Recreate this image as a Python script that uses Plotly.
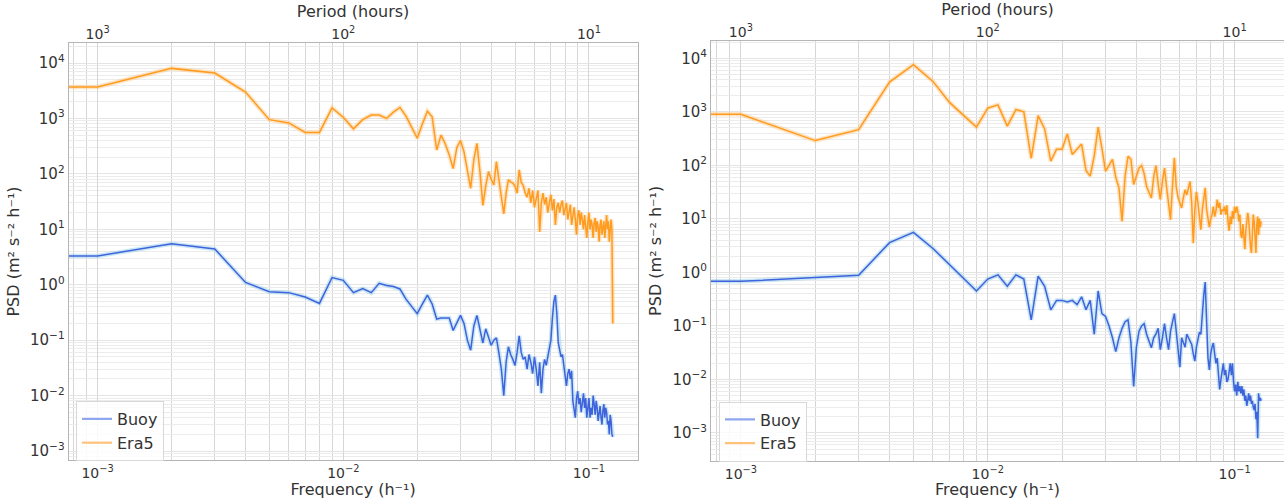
import math
import plotly.graph_objects as go

# ---------------- data ----------------
freq_left = [0.0007,
    0.001, 0.002, 0.003, 0.004, 0.005, 0.006, 0.007, 0.008, 0.009, 0.010,
    0.011, 0.012, 0.013, 0.014, 0.015, 0.016, 0.017, 0.018, 0.019, 0.020,
    0.021, 0.022, 0.023, 0.024, 0.025, 0.026, 0.027, 0.028, 0.029, 0.030,
    0.031, 0.032, 0.033, 0.034, 0.035, 0.036, 0.037, 0.038, 0.039, 0.040,
    0.041, 0.042, 0.043, 0.044, 0.045, 0.046, 0.047, 0.048, 0.049, 0.050,
    0.051, 0.052, 0.053, 0.054, 0.055, 0.056, 0.057, 0.058, 0.059, 0.060,
    0.061, 0.062, 0.063, 0.064, 0.065, 0.066, 0.067, 0.068, 0.069, 0.070,
    0.071, 0.072, 0.073, 0.074, 0.075, 0.076, 0.077, 0.078, 0.079, 0.080,
    0.081, 0.082, 0.083, 0.084, 0.085, 0.086, 0.087, 0.088, 0.089, 0.090,
    0.091, 0.092, 0.093, 0.094, 0.095, 0.096, 0.097, 0.098, 0.099, 0.100,
    0.101, 0.102, 0.103, 0.104, 0.105, 0.106, 0.107, 0.108, 0.109, 0.110,
    0.111, 0.112, 0.113, 0.114, 0.115, 0.116, 0.117, 0.118, 0.119, 0.120,
    0.121, 0.122, 0.123, 0.124, 0.125]

era5_left = [3700,
    3700, 8000, 6600, 3000, 950, 830, 560, 560, 1550, 1050,
    650, 950, 1150, 1150, 1000, 1300, 1580, 1100, 700, 440,
    800, 1350, 1075, 270, 500, 350, 220, 125, 300, 400,
    250, 110, 55, 180, 355, 110, 27, 60, 110, 80,
    63, 166, 80, 35, 19, 45, 78, 72, 68, 60,
    45, 118, 70, 62, 45, 38, 55, 30, 50, 25,
    35, 50, 9, 30, 45, 28, 38, 20, 30, 42,
    22, 35, 12, 25, 30, 20, 28, 33, 18, 25,
    30, 15, 22, 28, 12, 20, 25, 15, 8, 18,
    22, 12, 20, 15, 10, 18, 12, 7, 14, 20,
    10, 15, 12, 7, 13, 16, 9, 14, 11, 6,
    12, 15, 8, 11, 14, 7, 12, 18, 10, 14,
    6, 12, 15, 10, 0.2]

buoy_left = [3.3,
    3.3, 5.5, 4.4, 1.1, 0.75, 0.72, 0.6, 0.46, 1.35, 1.2,
    0.72, 0.85, 0.72, 1.06, 0.97, 0.93, 0.84, 0.55, 0.4, 0.3,
    0.45, 0.65, 0.45, 0.24, 0.25, 0.25, 0.25, 0.15, 0.2, 0.28,
    0.2, 0.1, 0.066, 0.18, 0.28, 0.15, 0.089, 0.16, 0.11, 0.081,
    0.1, 0.11, 0.059, 0.03, 0.01, 0.04, 0.076, 0.055, 0.045, 0.035,
    0.06, 0.12, 0.06, 0.045, 0.05, 0.03, 0.055, 0.04, 0.025, 0.05,
    0.03, 0.015, 0.04, 0.011, 0.03, 0.045, 0.035, 0.05, 0.06, 0.1,
    0.25, 0.5, 0.65, 0.3, 0.09, 0.07, 0.05, 0.055, 0.035, 0.02,
    0.015, 0.025, 0.03, 0.02, 0.028, 0.008, 0.006, 0.004, 0.009, 0.012,
    0.007, 0.009, 0.005, 0.008, 0.011, 0.006, 0.009, 0.004, 0.007, 0.009,
    0.004, 0.006, 0.0045, 0.01, 0.007, 0.0045, 0.008, 0.006, 0.0035, 0.005,
    0.0065, 0.004, 0.003, 0.0055, 0.007, 0.004, 0.006, 0.005, 0.003, 0.0035,
    0.002, 0.0045, 0.0035, 0.002, 0.0018]

freq_right = [0.0007,
    0.001, 0.002, 0.003, 0.004, 0.005, 0.006, 0.007, 0.008, 0.009, 0.010,
    0.011, 0.012, 0.013, 0.014, 0.015, 0.016, 0.017, 0.018, 0.019, 0.020,
    0.021, 0.022, 0.023, 0.024, 0.025, 0.026, 0.027, 0.028, 0.029, 0.030,
    0.031, 0.032, 0.033, 0.034, 0.035, 0.036, 0.037, 0.038, 0.039, 0.040,
    0.041, 0.042, 0.043, 0.044, 0.045, 0.046, 0.047, 0.048, 0.049, 0.050,
    0.051, 0.052, 0.053, 0.054, 0.055, 0.056, 0.057, 0.058, 0.059, 0.060,
    0.061, 0.062, 0.063, 0.064, 0.065, 0.066, 0.067, 0.068, 0.069, 0.070,
    0.071, 0.072, 0.073, 0.074, 0.075, 0.076, 0.077, 0.078, 0.079, 0.080,
    0.081, 0.082, 0.083, 0.084, 0.085, 0.086, 0.087, 0.088, 0.089, 0.090,
    0.091, 0.092, 0.093, 0.094, 0.095, 0.096, 0.097, 0.098, 0.099, 0.100,
    0.101, 0.102, 0.103, 0.104, 0.105, 0.106, 0.107, 0.108, 0.109, 0.110,
    0.111, 0.112, 0.113, 0.114, 0.115, 0.116, 0.117, 0.118, 0.119, 0.120,
    0.121, 0.122, 0.123, 0.124, 0.125, 0.126, 0.127, 0.128]

era5_right = [900,
    900, 290, 465, 3600, 7600, 3700, 1500, 850, 520, 1170,
    1350, 540, 1100, 1000, 135, 850, 480, 120, 200, 200,
    385, 160, 200, 250, 80, 63, 150, 520, 210, 78,
    100, 129, 60, 38, 9, 63, 147, 130, 44, 60,
    89, 99, 70, 40, 30, 24.5, 60, 99, 45, 23,
    50, 89, 40, 20, 9.6, 40, 138, 40, 25, 20,
    16, 25, 35, 28, 40, 50, 20, 3.5, 15, 32,
    20, 12, 6.3, 15, 25, 38, 15, 9, 7, 10,
    12, 17, 11, 14, 23, 16, 20, 12, 15, 14,
    17, 12, 18, 9, 6, 11, 8, 14, 10, 17,
    13, 17, 14, 9, 12, 5, 4.4, 8, 3.5, 2.7,
    6, 9, 13, 10, 5, 3, 2.3, 7, 12, 9,
    4, 2.3, 8, 11, 5, 10, 7, 9]

buoy_right = [0.68,
    0.68, 0.8, 0.88, 3.6, 5.6, 2.8, 1.4, 0.75, 0.45, 0.75,
    0.9, 0.55, 0.9, 0.75, 0.13, 0.85, 0.55, 0.2, 0.3, 0.3,
    0.28, 0.3, 0.25, 0.35, 0.2, 0.3, 0.07, 0.45, 0.17, 0.15,
    0.1, 0.06, 0.033, 0.06, 0.09, 0.12, 0.13, 0.05, 0.0074, 0.04,
    0.08, 0.1, 0.11, 0.07, 0.05, 0.039, 0.06, 0.07, 0.09, 0.036,
    0.06, 0.11, 0.06, 0.036, 0.08, 0.12, 0.17, 0.08, 0.03, 0.017,
    0.06, 0.05, 0.04, 0.07, 0.06, 0.05, 0.045, 0.03, 0.022, 0.04,
    0.06, 0.076, 0.07, 0.2, 0.38, 0.66, 0.12, 0.025, 0.015, 0.03,
    0.04, 0.048, 0.03, 0.02, 0.025, 0.012, 0.0065, 0.01, 0.015, 0.02,
    0.012, 0.015, 0.009, 0.01, 0.014, 0.02, 0.012, 0.02, 0.009, 0.006,
    0.008, 0.005, 0.009, 0.006, 0.0075, 0.0055, 0.0075, 0.005, 0.0065, 0.004,
    0.005, 0.0032, 0.004, 0.0055, 0.004, 0.005, 0.0035, 0.004, 0.003, 0.0027,
    0.0035, 0.0018, 0.0025, 0.0008, 0.0055, 0.004, 0.0045, 0.004]

inertial_left = 0.0735
inertial_right = 0.0762

freq_ticks = [0.001, 0.01, 0.1]
freq_ticktext = ["10<sup>\u22123</sup>", "10<sup>\u22122</sup>", "10<sup>\u22121</sup>"]
period_ticks = [1000, 100, 10]
period_ticktext = ["10<sup>3</sup>", "10<sup>2</sup>", "10<sup>1</sup>"]
psd_ticks = [1e-3, 1e-2, 1e-1, 1, 10, 100, 1000, 10000]
psd_ticktext = ["10<sup>\u22123</sup>", "10<sup>\u22122</sup>", "10<sup>\u22121</sup>", "10<sup>0</sup>",
                "10<sup>1</sup>", "10<sup>2</sup>", "10<sup>3</sup>", "10<sup>4</sup>"]

# ---------------- style ----------------
FONT = "DejaVu Sans"
TXT = "#333333"
BLUE = "#3f63dc"
BLUE_HALO = "rgba(110,190,230,0.35)"
ORANGE = "#ff9b1e"
ORANGE_HALO = "rgba(255,190,110,0.4)"
FRAME = "#b5b5b5"
VGRID = "#d6d6d6"
HGRID = "#e4e4e4"
HGRID_MINOR = "#ececec"
W, H = 1284, 499

minor_x = [m * 10.0 ** e for e in (-4, -3, -2, -1) for m in range(2, 10)]
minor_y = [m * 10.0 ** e for e in range(-5, 5) for m in range(2, 10)]

fig = go.Figure()


def add_series(freq, vals, color, halo, xa, ya):
    fig.add_trace(go.Scatter(x=freq, y=vals, mode="lines", line=dict(color=halo, width=4.5),
                             xaxis=xa, yaxis=ya, showlegend=False, hoverinfo="skip"))
    fig.add_trace(go.Scatter(x=freq, y=vals, mode="lines", line=dict(color=color, width=1.5),
                             xaxis=xa, yaxis=ya, showlegend=False))


add_series(freq_left, buoy_left, BLUE, BLUE_HALO, "x", "y")
add_series(freq_left, era5_left, ORANGE, ORANGE_HALO, "x", "y")
add_series(freq_right, buoy_right, BLUE, BLUE_HALO, "x3", "y2")
add_series(freq_right, era5_right, ORANGE, ORANGE_HALO, "x3", "y2")

# empty traces so the top (period) axes exist
fig.add_trace(go.Scatter(x=[None], y=[None], xaxis="x2", yaxis="y", showlegend=False))
fig.add_trace(go.Scatter(x=[None], y=[None], xaxis="x4", yaxis="y2", showlegend=False))

# legend entries
for lg in ("legend", "legend2"):
    fig.add_trace(go.Scatter(x=[None], y=[None], mode="lines", name="Buoy",
                             line=dict(color="#8ea6ee", width=2.2), legend=lg))
    fig.add_trace(go.Scatter(x=[None], y=[None], mode="lines", name="Era5",
                             line=dict(color="#ffc27a", width=2.2), legend=lg))


def freq_axis(domain, anchor, rng):
    return dict(type="log", domain=domain, anchor=anchor, range=rng,
                tickmode="array", tickvals=freq_ticks, ticktext=freq_ticktext,
                tickfont=dict(family=FONT, size=14, color=TXT), ticks="",
                showgrid=True, gridcolor=VGRID, gridwidth=1,
                minor=dict(tickmode="array", tickvals=minor_x, showgrid=True,
                           gridcolor=VGRID, gridwidth=1, ticks=""),
                showline=True, mirror=True, linecolor=FRAME, linewidth=1,
                zeroline=False,
                title=dict(text="Frequency (h\u207b\u00b9)", font=dict(family=FONT, size=16, color=TXT),
                           standoff=7))


def period_axis(over, anchor, rng):
    return dict(type="log", overlaying=over, anchor=anchor, side="top", range=rng,
                tickmode="array", tickvals=period_ticks, ticktext=period_ticktext,
                tickfont=dict(family=FONT, size=14, color=TXT), ticks="",
                showgrid=False, showline=False, zeroline=False,
                title=dict(text="Period (hours)", font=dict(family=FONT, size=16, color=TXT),
                           standoff=2))


def psd_axis(domain, anchor, rng):
    return dict(type="log", domain=domain, anchor=anchor, range=rng,
                tickmode="array", tickvals=psd_ticks, ticktext=psd_ticktext,
                tickfont=dict(family=FONT, size=15, color=TXT), ticks="",
                showgrid=True, gridcolor=HGRID, gridwidth=1,
                minor=dict(tickmode="array", tickvals=minor_y, showgrid=True,
                           gridcolor=HGRID_MINOR, gridwidth=1, ticks=""),
                showline=True, mirror=True, linecolor=FRAME, linewidth=1,
                zeroline=False,
                title=dict(text="PSD (m\u00b2 s\u207b\u00b2 h\u207b\u00b9)",
                           font=dict(family=FONT, size=16, color=TXT), standoff=6))


xl = [68.6 / W, 637.6 / W]
xr = [711.0 / W, 1.0]
yl = [1 - 460.0 / H, 1 - 43.0 / H]
yr = [1 - 460.7 / H, 1 - 41.0 / H]

left_f_range = [-3.118, -0.802]
right_f_range = [-3.121, -0.800]

fig.update_layout(
    width=W, height=H, autosize=False,
    margin=dict(l=0, r=0, t=0, b=0),
    paper_bgcolor="white", plot_bgcolor="white",
    font=dict(family=FONT, color=TXT),
    xaxis=freq_axis(xl, "y", left_f_range),
    xaxis2=period_axis("x", "y", [-left_f_range[0], -left_f_range[1]]),
    yaxis=psd_axis(yl, "x", [-3.162, 4.361]),
    xaxis3=freq_axis(xr, "y2", right_f_range),
    xaxis4=period_axis("x3", "y2", [-right_f_range[0], -right_f_range[1]]),
    yaxis2=psd_axis(yr, "x3", [-3.518, 4.323]),
    legend=dict(x=76 / W, y=1 - 401 / H, xanchor="left", yanchor="top",
                bordercolor="#d8d8d8", borderwidth=1, bgcolor="rgba(255,255,255,0.85)",
                font=dict(family=FONT, size=16, color=TXT), tracegroupgap=0),
    legend2=dict(x=719 / W, y=1 - 401.5 / H, xanchor="left", yanchor="top",
                 bordercolor="#d8d8d8", borderwidth=1, bgcolor="rgba(255,255,255,0.85)",
                 font=dict(family=FONT, size=16, color=TXT), tracegroupgap=0),
    shapes=[
        dict(type="line", xref="x", yref="y domain", x0=math.log10(inertial_left),
             x1=math.log10(inertial_left), y0=0, y1=1,
             line=dict(color="rgba(255,40,40,0.9)", width=2)),
        dict(type="line", xref="x3", yref="y2 domain", x0=math.log10(inertial_right),
             x1=math.log10(inertial_right), y0=0, y1=1,
             line=dict(color="rgba(255,40,40,0.9)", width=2)),
    ],
)

fig.write_html("out.html")
